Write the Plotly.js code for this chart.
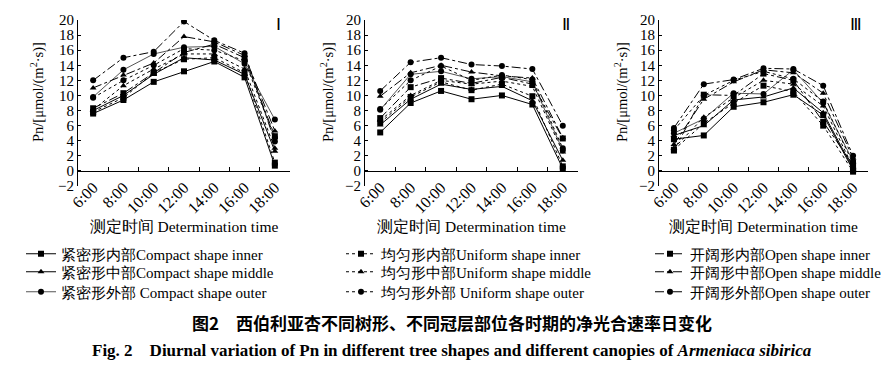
<!DOCTYPE html>
<html><head><meta charset="utf-8">
<script src="https://cdn.plot.ly/plotly-3.0.1.min.js"></script>
<style>html,body{margin:0;padding:0;background:#fff}</style>
</head><body><div id="chart" style="width:896px;height:370px"></div>
<script>
// ---------- DATA ----------
const times = ['6:00','8:00','10:00','12:00','14:00','16:00','18:00'];
const seriesNames = [
  '紧密形内部Compact shape inner','紧密形中部Compact shape middle','紧密形外部 Compact shape outer',
  '均匀形内部Uniform shape inner','均匀形中部Uniform shape middle','均匀形外部 Uniform shape outer',
  '开阔形内部Open shape inner','开阔形中部Open shape middle','开阔形外部Open shape outer'
];
const panelLabels = ['Ⅰ','Ⅱ','Ⅲ'];
const yTicks = [-2,0,2,4,6,8,10,12,14,16,18,20];

// Panel I
const p1CompactInner  = [7.6, 9.4, 11.8, 13.2, 14.5, 12.4, 0.7];
const p1CompactMiddle = [8.0, 10.0, 12.8, 15.0, 14.7, 12.8, 2.6];
const p1CompactOuter  = [9.8, 13.4, 15.5, 16.4, 16.5, 14.2, 6.8];
const p1UniformInner  = [7.8, 9.7, 13.0, 14.8, 15.0, 13.0, 1.1];
const p1UniformMiddle = [8.1, 11.3, 13.5, 15.5, 15.5, 13.5, 3.0];
const p1UniformOuter  = [9.7, 12.0, 14.0, 16.2, 16.0, 14.6, 4.4];
const p1OpenInner     = [8.3, 10.3, 13.0, 15.7, 16.8, 15.0, 4.6];
const p1OpenMiddle    = [11.0, 12.7, 14.3, 17.8, 17.1, 15.3, 5.3];
const p1OpenOuter     = [12.0, 15.0, 15.8, 19.8, 17.3, 15.6, 3.9];

// Panel II
const p2CompactInner  = [5.1, 9.0, 10.6, 9.5, 10.0, 8.8, 0.3];
const p2CompactMiddle = [6.1, 9.5, 11.5, 10.8, 11.2, 9.3, 1.4];
const p2CompactOuter  = [8.1, 12.8, 13.2, 12.2, 12.5, 11.8, 2.7];
const p2UniformInner  = [6.4, 9.8, 11.8, 10.7, 11.5, 9.9, 0.6];
const p2UniformMiddle = [6.7, 10.0, 12.0, 11.5, 11.9, 11.2, 2.5];
const p2UniformOuter  = [8.2, 12.0, 13.9, 12.0, 12.7, 12.1, 3.0];
const p2OpenInner     = [7.0, 11.1, 12.3, 11.6, 12.4, 11.5, 4.3];
const p2OpenMiddle    = [9.9, 13.0, 14.0, 13.1, 12.6, 12.3, 4.4];
const p2OpenOuter     = [10.6, 14.4, 15.0, 14.1, 13.9, 13.5, 6.0];

// Panel III
const p3CompactInner  = [4.2, 4.7, 8.5, 9.1, 10.1, 7.4, 0.1];
const p3CompactMiddle = [4.7, 6.0, 9.4, 9.8, 11.0, 7.7, 0.3];
const p3CompactOuter  = [5.0, 6.9, 10.3, 10.2, 13.4, 9.0, 1.3];
const p3UniformInner  = [2.8, 6.3, 9.0, 11.3, 10.5, 6.0, -0.1];
const p3UniformMiddle = [3.0, 7.1, 9.7, 12.0, 11.5, 8.6, 0.5];
const p3UniformOuter  = [5.4, 10.0, 12.0, 13.2, 12.2, 9.2, 1.0];
const p3OpenInner     = [2.7, 10.1, 10.0, 12.9, 12.0, 6.5, 0.8];
const p3OpenMiddle    = [3.5, 9.5, 11.8, 13.4, 13.0, 10.3, 1.7];
const p3OpenOuter     = [5.7, 11.5, 12.1, 13.6, 13.5, 11.3, 2.0];

const panels = [
  [p1CompactInner,p1CompactMiddle,p1CompactOuter,p1UniformInner,p1UniformMiddle,p1UniformOuter,p1OpenInner,p1OpenMiddle,p1OpenOuter],
  [p2CompactInner,p2CompactMiddle,p2CompactOuter,p2UniformInner,p2UniformMiddle,p2UniformOuter,p2OpenInner,p2OpenMiddle,p2OpenOuter],
  [p3CompactInner,p3CompactMiddle,p3CompactOuter,p3UniformInner,p3UniformMiddle,p3UniformOuter,p3OpenInner,p3OpenMiddle,p3OpenOuter]
];

// ---------- STYLE ----------
const W = 896, H = 370;
const fx = p => p / W, fy = p => 1 - p / H;
const serif = 'Liberation Serif';
const dashes = ['solid','solid','solid','dot','dot','dot','dashdot','dashdot','dashdot'];
const symbols = ['square','triangle-up','circle','square','triangle-up','circle','square','triangle-up','circle'];
const colors = ['#000','#000','#555','#000','#000','#000','#000','#000','#000'];
const legendIds = ['legend','legend2','legend3','legend4','legend5','legend6','legend7','legend8','legend9'];
const legendColX = [21, 341, 650];
const legendRowY = [254, 272, 292];
const xPix = [[78,290],[365,578],[659,868]];
const yTitleX = [37, 327, 621];

const traces = [];
panels.forEach((series, pi) => {
  series.forEach((vals, si) => {
    traces.push({
      type: 'scatter', mode: 'lines+markers',
      x: times, y: vals,
      xaxis: pi === 0 ? 'x' : 'x' + (pi + 1),
      yaxis: pi === 0 ? 'y' : 'y' + (pi + 1),
      name: seriesNames[si],
      legend: legendIds[si],
      legendgroup: 's' + si,
      showlegend: pi === 0,
      line: {color: colors[si], width: 1, dash: dashes[si]},
      marker: {symbol: symbols[si], size: 6, color: '#000'}
    });
  });
});

const layout = {
  width: W, height: H,
  margin: {l: 0, r: 0, t: 0, b: 0},
  paper_bgcolor: '#fff', plot_bgcolor: 'rgba(0,0,0,0)',
  font: {family: serif, size: 14, color: '#000'},
  annotations: [],
  hovermode: false
};
[0,1,2].forEach(pi => {
  const xs = pi === 0 ? '' : String(pi + 1);
  layout['xaxis' + xs] = {
    domain: [fx(xPix[pi][0]), fx(xPix[pi][1])],
    anchor: 'free', position: fy(171),
    type: 'category', range: [-0.5, 6.5],
    showline: true, linecolor: '#000', linewidth: 1,
    ticks: 'inside', ticklen: 4, tickcolor: '#000', tickson: 'boundaries',
    tickangle: -45, tickfont: {family: serif, size: 16},
    showgrid: false, zeroline: false, automargin: false,
    title: {text: '测定时间 Determination time', font: {family: serif, size: 15.5}, standoff: 5}
  };
  layout['yaxis' + xs] = {
    domain: [fy(186), fy(20)],
    anchor: 'x' + xs, range: [-2, 20],
    tickvals: yTicks, ticktext: yTicks.map(v => v < 0 ? '−' + Math.abs(v) : String(v)),
    showline: true, linecolor: '#000', linewidth: 1,
    ticks: 'inside', ticklen: 3, tickcolor: '#000',
    tickfont: {family: serif, size: 15},
    showgrid: false, zeroline: false, automargin: false
  };
  layout.annotations.push({
    xref: 'paper', yref: 'paper', x: fx(yTitleX[pi]), y: fy(92),
    text: 'Pn/[μmol/(m<sup>2</sup>·s)]', textangle: -90, showarrow: false,
    font: {family: serif, size: 14.5}, xanchor: 'center', yanchor: 'middle'
  });
  layout.annotations.push({
    xref: 'paper', yref: 'paper', x: fx(xPix[pi][1] - 12), y: fy(25),
    text: panelLabels[pi], showarrow: false,
    font: {family: serif, size: 17}, xanchor: 'center', yanchor: 'middle'
  });
});
legendIds.forEach((id, si) => {
  layout[id] = {
    x: fx(legendColX[Math.floor(si / 3)]), y: fy(legendRowY[si % 3]),
    xanchor: 'left', yanchor: 'middle', bgcolor: 'rgba(0,0,0,0)', borderwidth: 0,
    font: {family: serif, size: 15}, itemwidth: 30, itemclick: false
  };
});

layout.annotations.push({
  xref: 'paper', yref: 'paper', x: fx(452), y: fy(322),
  text: '<b>图2　西伯利亚杏不同树形、不同冠层部位各时期的净光合速率日变化</b>',
  showarrow: false, font: {family: 'Noto Sans CJK SC', size: 17}, xanchor: 'center', yanchor: 'middle'
});
layout.annotations.push({
  xref: 'paper', yref: 'paper', x: fx(452), y: fy(350),
  text: '<b>Fig. 2　Diurnal variation of Pn in different tree shapes and different canopies of <i>Armeniaca sibirica</i></b>',
  showarrow: false, font: {family: serif, size: 17}, xanchor: 'center', yanchor: 'middle'
});

Plotly.newPlot('chart', traces, layout, {staticPlot: true, displayModeBar: false});
</script></body></html>
